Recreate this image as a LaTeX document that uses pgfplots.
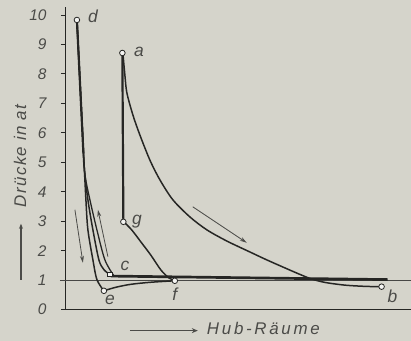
\documentclass[border=0pt]{standalone}
\usepackage{pgfplots}
\pgfplotsset{compat=1.18}
\usetikzlibrary{arrows.meta}
\usepackage{fontspec}
\setmainfont{Liberation Sans}
\definecolor{bg}{RGB}{213,212,203}
\definecolor{ink}{RGB}{38,38,36}
\definecolor{txt}{RGB}{75,75,72}
\begin{document}
\begin{tikzpicture}[x=1bp,y=1bp]
\fill[bg] (-66,-31) rectangle (345,310);
\begin{axis}[at={(0,0)}, anchor=south west, scale only axis,
  width=345bp, height=303bp,
  xmin=0, xmax=34.5, ymin=0, ymax=10.27,
  axis x line=bottom, axis y line=left,
  axis line style={ink, line width=0.9pt, -},
  xtick=\empty, ytick={0,1,...,10},
  tick align=outside, major tick length=5bp,
  tick style={ink, line width=0.8pt},
  /pgf/number format/assume math mode=true,
  yticklabel style={font=\fontsize{15.5}{15.5}\selectfont\itshape, text=txt, xshift=-11bp},
  clip=false]
% atmospheric line
\addplot[ink!85, line width=0.7pt] coordinates {(-0.6,0.98) (34.5,0.98)};
% exhaust line c -> b
\addplot[ink, line width=2.7pt] coordinates {(4.5,1.14) (32.2,1.02)};
% expansion curve a -> b
\addplot[ink, line width=1.5pt, smooth] coordinates {
 (5.7,8.71) (5.9,7.97) (6.1,7.36) (6.7,6.61) (7.4,5.93) (8.4,5.08) (9.4,4.41)
 (10.7,3.73) (12.4,3.15) (14.1,2.71) (16.1,2.33) (18.4,1.96) (20.1,1.69)
 (21.9,1.42) (23.4,1.20) (24.6,1.04) (26.0,0.92) (28.0,0.83) (30.0,0.79) (31.6,0.78)};
% vertical a -> g
\addplot[ink, line width=2.2pt] coordinates {(5.65,8.71) (5.75,2.98)};
% g -> f
\addplot[ink, line width=1.5pt, smooth] coordinates {
 (5.8,2.98) (6.6,2.70) (7.5,2.30) (8.5,1.85) (9.5,1.35) (10.3,1.08) (10.9,0.98)};
% e -> f
\addplot[ink, line width=1.5pt, smooth] coordinates {
 (3.8,0.64) (5.0,0.76) (6.5,0.86) (8.5,0.93) (10.9,0.98)};
% d -> e
\addplot[ink, line width=1.5pt, smooth] coordinates {
 (1.1,9.83) (1.3,8.47) (1.5,7.12) (1.7,5.76) (1.8,5.08) (2.0,3.73)
 (2.2,2.71) (2.7,1.69) (3.1,1.02) (3.8,0.64)};
% d -> c
\addplot[ink, line width=1.5pt, smooth] coordinates {
 (1.1,9.83) (1.3,8.47) (1.5,7.12) (1.7,5.76) (1.8,4.92) (2.2,3.73)
 (2.7,2.71) (3.3,1.69) (3.8,1.36) (4.4,1.19)};
% third curve into exhaust line
\addplot[ink, line width=1.3pt, smooth] coordinates {
 (1.7,5.76) (1.9,4.6) (2.4,3.73) (3.1,2.71) (3.9,1.69) (4.8,1.15)};
% d top thick
\addplot[ink, line width=2.2pt] coordinates {(1.1,9.83) (1.75,5.3)};
% arrows
\addplot[txt, line width=0.8pt, -{Stealth[length=7bp,width=4bp]}] coordinates {(0.9,3.39) (1.7,1.59)};
\addplot[txt, line width=0.8pt, -{Stealth[length=7bp,width=4bp]}] coordinates {(4.2,1.80) (3.2,3.39)};
\addplot[txt, line width=0.8pt, -{Stealth[length=7bp,width=4bp]}] coordinates {(12.7,3.49) (18.1,2.27)};
% points
\addplot[only marks, mark=*, mark size=2.8bp, mark options={fill=white!75!bg, draw=ink, line width=0.8pt}]
 coordinates {(1.1,9.83) (5.65,8.71) (5.75,2.98) (3.8,0.64) (10.9,0.98) (31.6,0.78)};
\addplot[only marks, mark=square*, mark size=2.2bp, mark options={fill=white!75!bg, draw=ink, line width=0.8pt}]
 coordinates {(4.4,1.19)};
% point labels
\begin{scope}[every node/.style={font=\fontsize{17.5}{17.5}\selectfont\itshape, text=txt, inner sep=0pt}]
\node at (axis cs:2.7,9.97) {d};
\node at (axis cs:7.3,8.75) {a};
\node at (axis cs:7.1,2.98) {g};
\node at (axis cs:5.9,1.49) {c};
\node at (axis cs:4.4,0.34) {e};
\node at (axis cs:10.9,0.54) {f};
\node at (axis cs:32.7,0.47) {b};
\end{scope}
\end{axis}
% axis titles
\draw[txt, line width=1.6pt, -{Stealth[length=5bp,width=4bp]}] (-45,30) -- (-45,86);
\node[rotate=90, font=\fontsize{17}{17}\selectfont\itshape\addfontfeatures{LetterSpace=8}, text=txt, inner sep=0pt] at (-46,154) {Drücke in at};
\draw[txt, line width=1.6pt, -{Stealth[length=6bp,width=5bp]}] (64,-21) -- (132,-21);
\node[anchor=base west, font=\fontsize{17}{17}\selectfont\itshape\addfontfeatures{LetterSpace=16}, text=txt, inner sep=0pt] at (141,-25) {Hub-Räume};
\end{tikzpicture}
\end{document}
